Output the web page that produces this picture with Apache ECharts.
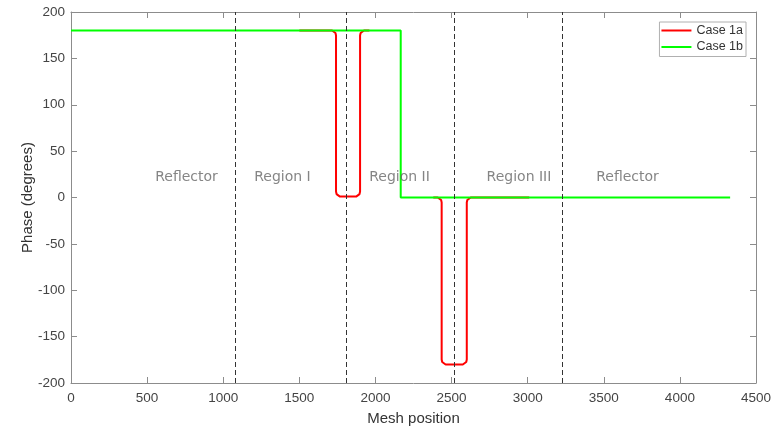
<!DOCTYPE html>
<html>
<head>
<meta charset="utf-8">
<script src="https://cdn.jsdelivr.net/npm/echarts@6/dist/echarts.min.js"></script>
<style>
html,body{margin:0;padding:0;background:#fff;}
#chart{width:784px;height:428px;}
</style>
</head>
<body>
<div id="chart"></div>
<script>
// Case 1a (red) mesh positions and phase values (elsewhere it coincides with Case 1b)
var redX = [1500, 1715, 1728, 1737.5, 1741, 1741, 1744.5, 1754, 1767,
  1873, 1886, 1895.5, 1899, 1899, 1902.5, 1912, 1925, 1960,
  null,
  2380, 2409, 2422, 2431.5, 2435, 2435, 2438.5, 2448, 2461,
  2574, 2587, 2596.5, 2600, 2600, 2603.5, 2613, 2626, 3010];
var redY = [180, 180, 179.3, 177.3, 174.6, 6.4, 3.7, 1.7, 1,
  1, 1.7, 3.7, 6.4, 174.6, 177.3, 179.3, 180, 180,
  null,
  0, 0, -0.7, -2.7, -5.4, -174.6, -177.3, -179.3, -180,
  -180, -179.3, -177.3, -174.6, -5.4, -2.7, -0.7, 0, 0];
// Case 1b (green)
var greenX = [0, 2166, 2166, 4330];
var greenY = [180, 180, 0, 0];
// Region boundaries (dashed lines)
var boundaries = [1080, 1808, 2516, 3230];
// Region labels
var regionNames = ['Reflector', 'Region I', 'Region II', 'Region III', 'Reflector'];
var regionX = [759, 1389, 2158, 2943, 3656];
var regionY = [22, 22, 22, 22, 22];
// Axis settings
var xTicks = {min: 0, max: 4500, interval: 500};
var yTicks = {min: -200, max: 200, interval: 50};

function pairs(xs, ys) {
  return xs.map(function (x, i) { return x === null ? [null, null] : [x, ys[i]]; });
}
function plain(v) { return String(v); }

var axisColor = '#8c8c8c';
var labelColor = '#444';
var chart = echarts.init(document.getElementById('chart'));
chart.setOption({
  animation: false,
  backgroundColor: '#fff',
  grid: {left: 71, right: 28, top: 12, bottom: 45, containLabel: false, outerBoundsMode: 'none'},
  legend: {
    data: [{name: 'Case 1a', icon: 'rect'}, {name: 'Case 1b', icon: 'rect'}],
    orient: 'vertical', right: 38, top: 22,
    itemWidth: 30, itemHeight: 2, itemGap: 1.5,
    padding: [1, 3, 2, 2],
    borderColor: '#b0b0b0', borderWidth: 1, backgroundColor: '#fff',
    textStyle: {fontFamily: 'Liberation Sans', fontSize: 12.5, color: '#333', lineHeight: 15}
  },
  xAxis: [{
    type: 'value', min: xTicks.min, max: xTicks.max, interval: xTicks.interval,
    name: 'Mesh position', nameLocation: 'middle', nameGap: 28, nameMoveOverlap: false,
    nameTextStyle: {fontFamily: 'Liberation Sans', fontSize: 15, color: '#333'},
    axisLine: {show: true, onZero: false, lineStyle: {color: axisColor, width: 1}},
    axisTick: {show: true, inside: true, length: 6, lineStyle: {color: axisColor}},
    axisLabel: {fontFamily: 'Liberation Sans', fontSize: 13.5, color: labelColor, margin: 8, formatter: plain},
    splitLine: {show: false}
  }, {
    type: 'value', position: 'top', min: xTicks.min, max: xTicks.max, interval: xTicks.interval,
    axisLine: {show: true, onZero: false, lineStyle: {color: axisColor, width: 1}},
    axisTick: {show: true, inside: true, length: 6, lineStyle: {color: axisColor}},
    axisLabel: {show: false}, splitLine: {show: false}
  }],
  yAxis: [{
    type: 'value', min: yTicks.min, max: yTicks.max, interval: yTicks.interval,
    name: 'Phase (degrees)', nameLocation: 'middle', nameGap: 36, nameMoveOverlap: false,
    nameTextStyle: {fontFamily: 'Liberation Sans', fontSize: 15, color: '#333'},
    axisLine: {show: true, onZero: false, lineStyle: {color: axisColor, width: 1}},
    axisTick: {show: true, inside: true, length: 6, lineStyle: {color: axisColor}},
    axisLabel: {fontFamily: 'Liberation Sans', fontSize: 13.5, color: labelColor, margin: 6, formatter: plain},
    splitLine: {show: false}
  }, {
    type: 'value', position: 'right', min: yTicks.min, max: yTicks.max, interval: yTicks.interval,
    axisLine: {show: true, onZero: false, lineStyle: {color: axisColor, width: 1}},
    axisTick: {show: true, inside: true, length: 6, lineStyle: {color: axisColor}},
    axisLabel: {show: false}, splitLine: {show: false}
  }],
  series: [{
    name: 'Case 1a', type: 'line', data: pairs(redX, redY), connectNulls: false,
    showSymbol: false, symbol: 'none', smooth: false,
    lineStyle: {color: '#ff0000', width: 2}, itemStyle: {color: '#ff0000'}, z: 3
  }, {
    name: 'Case 1b', type: 'line', data: pairs(greenX, greenY),
    showSymbol: false, symbol: 'none', smooth: false,
    lineStyle: {color: '#00ff00', width: 2}, itemStyle: {color: '#00ff00'}, z: 4,
    markLine: {
      silent: true, symbol: 'none', animation: false,
      label: {show: false},
      lineStyle: {color: '#333', width: 1, type: [5, 3]},
      data: boundaries.map(function (b) { return {xAxis: b}; })
    }
  }, {
    name: 'labels', type: 'scatter', symbolSize: 0, silent: true,
    data: regionX.map(function (x, i) { return {value: [x, regionY[i]], name: regionNames[i]}; }),
    label: {show: true, position: 'inside', formatter: '{b}',
      fontFamily: 'DejaVu Sans', fontSize: 14, color: '#666'},
    z: 5
  }]
});
</script>
</body>
</html>
